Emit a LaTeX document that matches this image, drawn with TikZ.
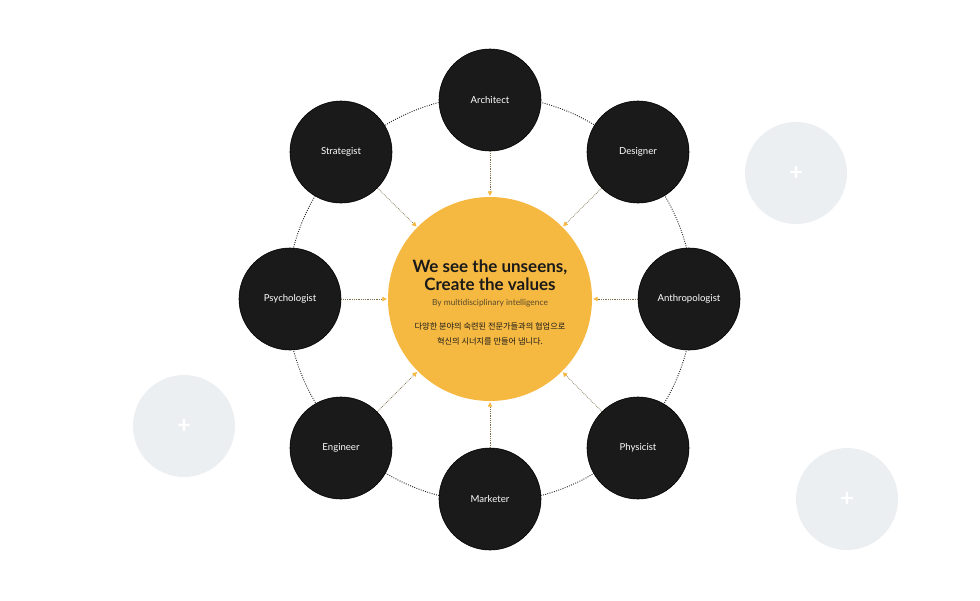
\documentclass[tikz,border=0pt]{standalone}
\usepackage{fontspec}
\setmainfont{Lato}
\newfontfamily\krfont{Noto Sans CJK KR}
\usetikzlibrary{arrows.meta}
\definecolor{hub}{HTML}{F5B841}
\definecolor{ink}{HTML}{1A1A1A}
\definecolor{pale}{HTML}{ECEFF2}
\definecolor{conncol}{HTML}{7E6E4E}
\definecolor{subcol}{HTML}{5A4A2A}
\tikzset{
  role/.style={circle, fill=ink, draw=black, line width=0.6pt, minimum size=102pt, inner sep=0pt, text=white, font=\fontsize{9.6}{11}\selectfont},
  hubnode/.style={circle, fill=hub, minimum size=204pt, inner sep=0pt},
  ghost/.style={circle, fill=pale, minimum size=102pt, inner sep=0pt, text=white, font=\fontsize{24}{24}\selectfont\bfseries},
  conn/.style={draw=conncol, line width=0.75pt, dash pattern=on 0.7pt off 1.1pt, shorten >=1pt, -{Triangle[length=4.5pt,width=4.5pt,fill=hub,color=hub]}},
  ring/.style={draw=ink, line width=0.9pt, dash pattern=on 0.9pt off 1.4pt}
}
\begin{document}
\begin{tikzpicture}[x=1pt,y=-1pt]
\useasboundingbox (0,0) rectangle (980,600);
% decorative ghost circles
\node[ghost] (g1) at (796,173) {+};
\node[ghost] (g2) at (184,426) {+};
\node[ghost] (g3) at (847,499) {+};
% ring
\draw[ring] (490,299) circle[radius=203];
% hub
\node[hubnode] (hub) at (490,299) {};
% roles
\node[role] (arch) at (490,100) {Architect};
\node[role] (des) at (638,152) {Designer};
\node[role] (anth) at (689,299) {Anthropologist};
\node[role] (phys) at (638,448) {Physicist};
\node[role] (mark) at (490,499) {Marketer};
\node[role] (eng) at (341,448) {Engineer};
\node[role] (psy) at (290,299) {Psychologist};
\node[role] (strat) at (341,152) {Strategist};
% connectors
\foreach \n in {arch,des,anth,phys,mark,eng,psy,strat}
  \draw[conn] (\n) -- (hub);
% hub text
\node[font=\fontsize{17}{17.5}\selectfont\bfseries, text=ink, align=center] (title) at (490,275) {We see the unseens,\\Create the values};
\node[font=\fontsize{8.4}{10}\selectfont, text=subcol] (sub) at (490,303) {By multidisciplinary intelligence};
\node[font=\fontsize{8.2}{15}\selectfont\krfont, text=ink, align=center] (kr) at (490,334) {다양한 분야의 숙련된 전문가들과의 협업으로\\혁신의 시너지를 만들어 냅니다.};
\end{tikzpicture}
\end{document}
